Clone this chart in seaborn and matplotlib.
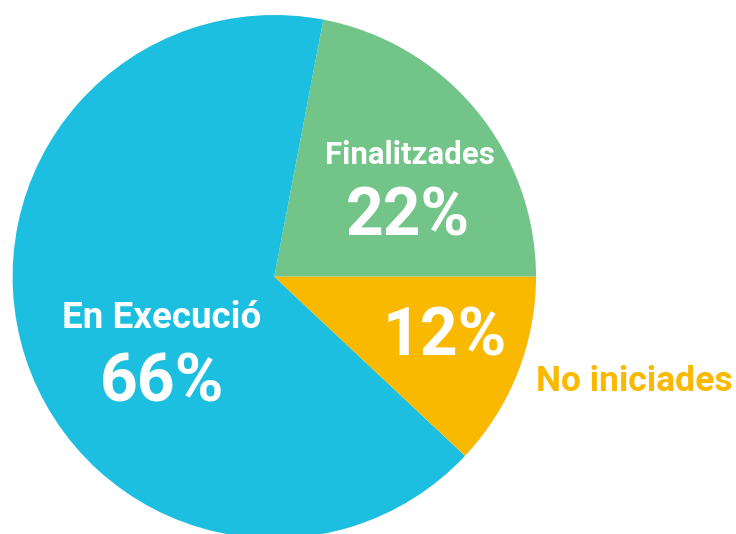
import matplotlib
matplotlib.use("Agg")
import matplotlib.pyplot as plt
import seaborn as sns

# data
labels = ["Finalitzades", "En Execució", "No iniciades"]
shares = [22, 66, 12]
colors = ["#72C488", "#1DBFE0", "#F8B900"]

sns.set_theme(style="white")
plt.rcParams["font.family"] = ["Roboto", "DejaVu Sans"]

fig = plt.figure(figsize=(7.36, 5.34), dpi=100)
ax = fig.add_axes([0, 0, 1, 1])

ax.pie(shares, colors=sns.color_palette(colors), startangle=0, counterclock=True,
       wedgeprops=dict(linewidth=0))

# pixel layout -> data coords (centre 274.3, 276.7 px, radius 261.7 px)
cx, cy, r = 274.3, 276.7, 261.7
ax.set_xlim(-cx / r, (736 - cx) / r)
ax.set_ylim(-(534 - cy) / r, cy / r)
ax.set_aspect("auto")
ax.axis("off")


def put(x, y, s, size, color="white"):
    ax.text((x - cx) / r, (cy - y) / r, s, ha="center", va="baseline",
            fontsize=size, fontweight="semibold", color=color)


# name label, then percentage (pixel positions of baselines)
put(410, 164, labels[0], 22.5)
put(408, 235, f"{shares[0]}%", 47.5)
put(162, 328, labels[1], 26.5)
put(162, 402, f"{shares[1]}%", 47.5)
put(445, 356, f"{shares[2]}%", 47.5)
put(634, 391, labels[2], 25.5, color=colors[2])

fig.savefig("out.png", dpi=100)
